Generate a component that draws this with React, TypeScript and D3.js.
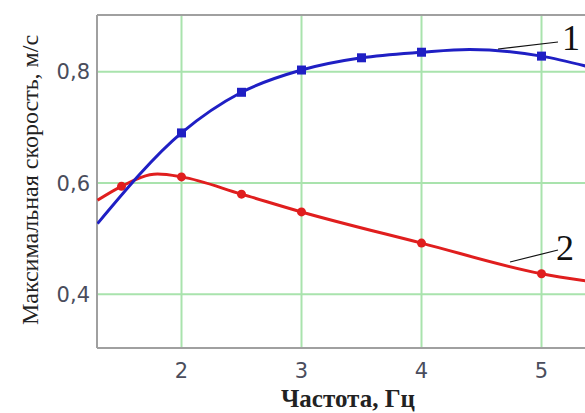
import React from 'react';
import * as d3 from 'd3';

// Curve 1 (blue) and curve 2 (red)
const blueCurveX = [1.3, 2, 2.5, 3, 3.5, 4, 4.4, 5, 5.37];
const blueCurveY = [0.527, 0.69, 0.763, 0.803, 0.825, 0.835, 0.84, 0.828, 0.81];
const blueMarkX = [2, 2.5, 3, 3.5, 4, 5];
const blueMarkY = [0.69, 0.763, 0.803, 0.825, 0.835, 0.828];

const redCurveX = [1.3, 1.5, 1.8, 2, 2.5, 3, 4, 5, 5.37];
const redCurveY = [0.569, 0.594, 0.616, 0.611, 0.58, 0.548, 0.492, 0.437, 0.424];
const redMarkX = [1.5, 2, 2.5, 3, 4, 5];
const redMarkY = [0.594, 0.611, 0.58, 0.548, 0.492, 0.437];

const xTicks = [2, 3, 4, 5];
const yTicks = [0.4, 0.6, 0.8];

const width = 585;
const height = 413;
const plot = { left: 97, right: 585, top: 15, bottom: 348 };
const serif = "'Liberation Serif', 'DejaVu Serif', serif";

const App: React.FC = () => {
  const x = d3.scaleLinear().domain([2, 5]).range([181.5, 541.5]);
  const y = d3.scaleLinear().domain([0.4, 0.8]).range([294.3, 71.7]);

  const line = d3
    .line<[number, number]>()
    .x(d => x(d[0]))
    .y(d => y(d[1]))
    .curve(d3.curveMonotoneX);

  const blue = blueCurveX.map((v, i) => [v, blueCurveY[i]] as [number, number]);
  const red = redCurveX.map((v, i) => [v, redCurveY[i]] as [number, number]);

  const tickColor = '#4a4d5c';
  const blueColor = '#1f1fc4';
  const redColor = '#e01e1e';

  return (
    <svg
      width={width}
      height={height}
      style={{ position: 'absolute', left: 0, top: 0, background: '#fff' }}
    >
      <defs>
        <clipPath id="plot-clip">
          <rect
            x={plot.left}
            y={plot.top}
            width={plot.right - plot.left}
            height={plot.bottom - plot.top}
          />
        </clipPath>
      </defs>

      {/* Grid */}
      {xTicks.map(t => (
        <line
          key={`gx-${t}`}
          x1={x(t)}
          x2={x(t)}
          y1={plot.top}
          y2={plot.bottom}
          stroke="#a9e3ad"
          strokeWidth={2}
        />
      ))}
      {yTicks.map(t => (
        <line
          key={`gy-${t}`}
          x1={plot.left}
          x2={plot.right}
          y1={y(t)}
          y2={y(t)}
          stroke="#a9e3ad"
          strokeWidth={2}
        />
      ))}

      {/* Frame */}
      <line x1={plot.left} x2={plot.right} y1={plot.top} y2={plot.top} stroke="#a0a0a0" strokeWidth={2} />
      <line x1={plot.left} x2={plot.right} y1={plot.bottom} y2={plot.bottom} stroke="#a0a0a0" strokeWidth={2} />
      <line x1={plot.left} x2={plot.left} y1={plot.top} y2={plot.bottom} stroke="#a0a0a0" strokeWidth={2} />

      {/* Curves */}
      <g clipPath="url(#plot-clip)">
        <path d={line(red) || ''} fill="none" stroke={redColor} strokeWidth={3} />
        {redMarkX.map((v, i) => (
          <circle key={`rm-${v}`} cx={x(v)} cy={y(redMarkY[i])} r={4.5} fill={redColor} />
        ))}
        <path d={line(blue) || ''} fill="none" stroke={blueColor} strokeWidth={3} />
        {blueMarkX.map((v, i) => (
          <rect
            key={`bm-${v}`}
            x={x(v) - 4.5}
            y={y(blueMarkY[i]) - 4.5}
            width={9}
            height={9}
            fill={blueColor}
          />
        ))}
      </g>

      {/* Curve labels */}
      <line x1={498} y1={49} x2={558} y2={42} stroke="#111" strokeWidth={1.2} />
      <text x={562} y={50} fontFamily={serif} fontSize={36} fill="#111">1</text>
      <line x1={510} y1={262} x2={558} y2={250} stroke="#111" strokeWidth={1.2} />
      <text x={556} y={260} fontFamily={serif} fontSize={36} fill="#111">2</text>

      {/* Tick labels */}
      {xTicks.map(t => (
        <text
          key={`xt-${t}`}
          x={x(t)}
          y={378}
          textAnchor="middle"
          fontFamily="DejaVu Sans"
          fontSize={21}
          fill={tickColor}
        >
          {t}
        </text>
      ))}
      {yTicks.map(t => (
        <text
          key={`yt-${t}`}
          x={90}
          y={y(t)}
          dy="0.36em"
          textAnchor="end"
          fontFamily="DejaVu Sans"
          fontSize={21}
          fill={tickColor}
        >
          {d3.format('.1f')(t).replace('.', ',')}
        </text>
      ))}

      {/* Axis titles */}
      <text
        x={348}
        y={407}
        textAnchor="middle"
        fontFamily={serif}
        fontWeight="bold"
        fontSize={25}
        fill="#222"
      >
        Частота, Гц
      </text>
      <text
        transform={`translate(38, 180) rotate(-90)`}
        textAnchor="middle"
        fontFamily={serif}
        fontSize={24}
        fill="#222"
      >
        Максимальная скорость, м/с
      </text>
    </svg>
  );
};

export default App;
